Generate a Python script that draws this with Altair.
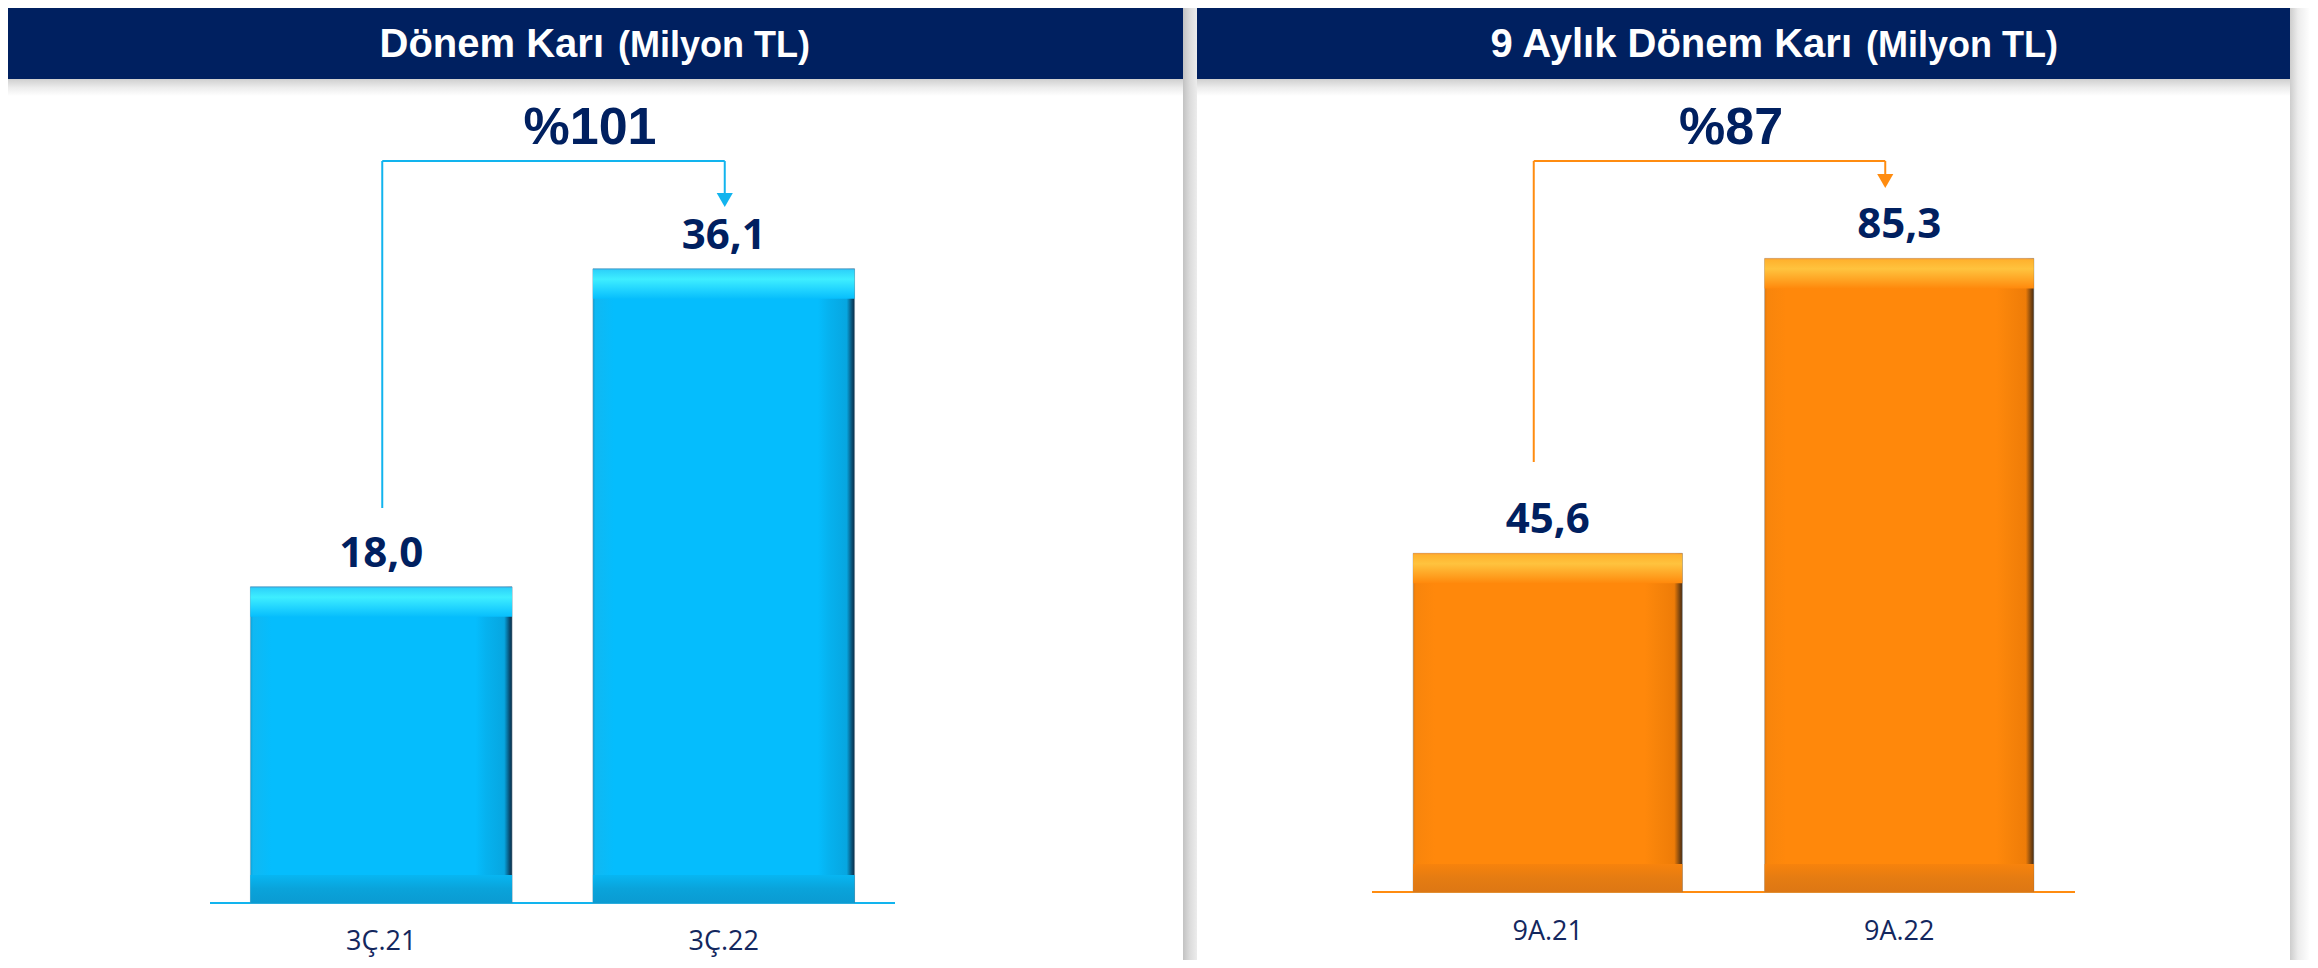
import altair as alt
import pandas as pd

# ---------------- data ----------------
left_categories = ["3Ç.21", "3Ç.22"]
left_values = [18.0, 36.1]
left_title_main = "Dönem Karı"
left_title_sub = "(Milyon TL)"

right_categories = ["9A.21", "9A.22"]
right_values = [45.6, 85.3]
right_title_main = "9 Aylık Dönem Karı"
right_title_sub = "(Milyon TL)"

NAVY = "#002060"
H = 952


def grad(stops, vertical=False):
    return alt.LinearGradient(
        gradient="linear",
        stops=[alt.GradientStop(color=c, offset=o) for c, o in stops],
        x1=0, y1=0, x2=0 if vertical else 1, y2=1 if vertical else 0,
    )


def fmt(v):
    return f"{v:.1f}".replace(".", ",")


def panel(cats, vals, t_main, t_sub, P):
    df = pd.DataFrame({"cat": cats, "value": vals, "base": [0] * len(cats),
                       "label": [fmt(v) for v in vals]})
    one = pd.DataFrame({"pct": [f"%{round((vals[1] / vals[0] - 1) * 100)}"],
                        "main": [t_main], "sub": [t_sub],
                        "from": [cats[0]], "to": [cats[1]]})
    xs = alt.Scale(domain=cats, range=P["xrange"], paddingInner=P["pin"], paddingOuter=P["pout"])
    ys = alt.Scale(domain=P["ydom"], nice=False)
    X = lambda f: alt.X(f + ":N", scale=xs, axis=None)
    Y = lambda f: alt.Y(f + ":Q", scale=ys, axis=None)
    base = alt.Chart(one)
    bars = alt.Chart(df)

    layers = [
        # panel background
        base.mark_rect(fill="white").encode(x=alt.value(0), x2=alt.value(P["PW"]),
                                            y=alt.value(0), y2=alt.value(H)),
        # panel side shadow
        base.mark_rect(fill=grad(P["side"])).encode(x=alt.value(P["PW"]), x2=alt.value(P["W"]),
                                                     y=alt.value(0), y2=alt.value(H)),
        # title bar + its shadow
        base.mark_rect(fill=NAVY).encode(x=alt.value(0), x2=alt.value(P["PW"]),
                                         y=alt.value(0), y2=alt.value(71)),
        base.mark_rect(fill=grad([("#cfcfcf", 0), ("#ececec", 0.5), ("#ffffff", 1)], vertical=True)).encode(
            x=alt.value(0), x2=alt.value(P["PW"]), y=alt.value(71), y2=alt.value(88)),
        base.mark_text(align="right", baseline="alphabetic", font="Liberation Sans", fontWeight="bold",
                       fontSize=40, color="white").encode(
            x=alt.value(P["split"]), y=alt.value(49), text="main:N"),
        base.mark_text(align="left", baseline="alphabetic", font="Liberation Sans", fontWeight="bold",
                       fontSize=36, color="white").encode(
            x=alt.value(P["split"] + 14), y=alt.value(49), text="sub:N"),
        # percentage
        base.mark_text(align="center", baseline="alphabetic", font="Liberation Sans", fontWeight="bold",
                       fontSize=52, color=NAVY).encode(
            x=alt.value(P["pct_x"]), y=alt.value(136), text="pct:N"),
        # baseline
        bars.mark_rule(color=P["accent"], strokeWidth=2).encode(
            x=alt.value(P["xrange"][0]), x2=alt.value(P["xrange"][1]), y=Y("base")),
        # bars with bevel bands
        bars.mark_bar(fill=grad(P["main"]), stroke="#7f93a3", strokeWidth=0.8, strokeOpacity=0.6).encode(
            x=X("cat"), y=Y("value"), y2=alt.Y2("base:Q")),
        bars.mark_bar(fill=grad(P["top"], vertical=True), y2Offset=30).encode(
            x=X("cat"), y=Y("value"), y2=alt.Y2("value:Q")),
        bars.mark_bar(fill=grad(P["bot"], vertical=True), yOffset=-28).encode(
            x=X("cat"), y=Y("base"), y2=alt.Y2("base:Q")),
        # value labels
        bars.mark_text(dy=-20, baseline="alphabetic", font="Open Sans", fontWeight="bold",
                       fontSize=42, color=NAVY).encode(x=X("cat"), y=Y("value"), text="label:N"),
        # category labels
        bars.mark_text(dy=P["cat_dy"], baseline="alphabetic", font="Open Sans",
                       fontSize=27, color="#13275E").encode(x=X("cat"), y=Y("base"), text="cat:N"),
        # bracket arrow
        base.mark_rule(color=P["accent"], strokeWidth=2, xOffset=P["o"]).encode(
            x=X("from"), y=alt.value(P["br_y"]), y2=alt.value(P["lb"])),
        bars.mark_line(color=P["accent"], strokeWidth=2, xOffset=P["o"]).encode(
            x=X("cat"), y=alt.value(P["br_y"])),
        base.mark_rule(color=P["accent"], strokeWidth=2, xOffset=P["o"]).encode(
            x=X("to"), y=alt.value(P["br_y"]), y2=alt.value(P["tip"] - 6)),
        base.mark_point(shape="triangle-down", filled=True, size=260, opacity=1, color=P["accent"],
                        xOffset=P["o"]).encode(x=X("to"), y=alt.value(P["tip"])),
    ]
    return alt.layer(*layers).properties(width=P["W"], height=H)


blue = dict(
    W=1189, PW=1175, xrange=[202, 887], pin=0.236, pout=0.118,
    ydom=[-(H - 895) / 17.57, 895 / 17.57],
    split=596, pct_x=582, br_y=153, lb=500, tip=192, o=1, cat_dy=47,
    accent="#12B4EE",
    side=[("#c2c2c2", 0), ("#dcdcdc", 0.5), ("#ececec", 1)],
    main=[("#0AA2DA", 0), ("#10B8F2", 0.01), ("#05BDFD", 0.08), ("#05BDFD", 0.86),
          ("#06B2EF", 0.9), ("#07A6E0", 0.97), ("#094E73", 0.99), ("#0B2E48", 1)],
    top=[("#3A9FD8", 0), ("#2ED3FA", 0.06), ("#3EEEFF", 0.35), ("#1CD0FF", 0.75), ("#07BEFC", 1)],
    bot=[("#07B6F2", 0), ("#0AA3DA", 0.5), ("#0B9BD2", 1)],
)

orange = dict(
    W=1113, PW=1093, xrange=[175, 878], pin=0.234, pout=0.117,
    ydom=[-(H - 884) / 7.428, 884 / 7.428],
    split=655, pct_x=534, br_y=153, lb=454, tip=173, o=-14, cat_dy=48,
    accent="#FF8C10",
    side=[("#cdcdcd", 0), ("#ececec", 0.4), ("#ffffff", 1)],
    main=[("#E6780A", 0), ("#F8850C", 0.01), ("#FF880B", 0.08), ("#FF880B", 0.86),
          ("#F8840A", 0.9), ("#EE7C08", 0.97), ("#7A4510", 0.99), ("#4A2A0E", 1)],
    top=[("#F39A3A", 0), ("#FFB22E", 0.06), ("#FFC33E", 0.35), ("#FFA020", 0.75), ("#FF890C", 1)],
    bot=[("#F7830C", 0), ("#E57C12", 0.5), ("#DD7714", 1)],
)

left = panel(left_categories, left_values, left_title_main, left_title_sub, blue)
right = panel(right_categories, right_values, right_title_main, right_title_sub, orange)

chart = alt.hconcat(left, right, spacing=0).properties(
    padding=0, background="white"
).configure_view(strokeWidth=0)

chart.save("out.html", embed_options={"renderer": "svg", "actions": False})
